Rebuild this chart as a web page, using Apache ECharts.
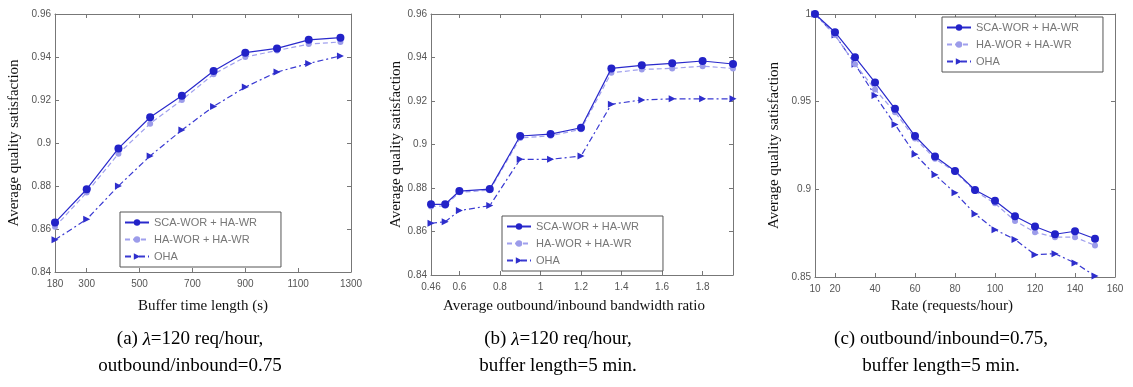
<!DOCTYPE html>
<html>
<head>
<meta charset="utf-8">
<script src="https://cdn.jsdelivr.net/npm/echarts@6/dist/echarts.min.js"></script>
<style>
  html, body { margin: 0; padding: 0; background: #fff; }
  #chart { width: 1133px; height: 387px; }
</style>
</head>
<body>
<div id="chart"></div>
<script>
// legend names
const series_names = ["SCA-WOR + HA-WR", "HA-WOR + HA-WR", "OHA"];

// (a) buffer time length
const buf_x = [180, 300, 420, 540, 660, 780, 900, 1020, 1140, 1260];
const buf_sca = [0.863, 0.8785, 0.8975, 0.912, 0.922, 0.9335, 0.942, 0.944, 0.948, 0.949];
const buf_ha = [0.861, 0.877, 0.895, 0.909, 0.920, 0.932, 0.940, 0.943, 0.946, 0.947];
const buf_oha = [0.855, 0.8645, 0.880, 0.894, 0.906, 0.917, 0.926, 0.933, 0.937, 0.9405];
const buf_ticks = [180, 300, 500, 700, 900, 1100, 1300];

// (b) bandwidth ratio
const ratio_x = [0.46, 0.53, 0.6, 0.75, 0.9, 1.05, 1.2, 1.35, 1.5, 1.65, 1.8, 1.95];
const ratio_sca = [0.8725, 0.8725, 0.8786, 0.8795, 0.9039, 0.9048, 0.9077, 0.935, 0.9364, 0.9373, 0.9384, 0.937];
const ratio_ha = [0.8715, 0.8718, 0.878, 0.879, 0.903, 0.904, 0.907, 0.933, 0.9345, 0.935, 0.936, 0.935];
const ratio_oha = [0.8638, 0.8645, 0.8696, 0.8719, 0.8932, 0.8932, 0.8947, 0.9185, 0.9205, 0.921, 0.921, 0.921];
const ratio_ticks = [0.46, 0.6, 0.8, 1, 1.2, 1.4, 1.6, 1.8];

// (c) request rate
const rate_x = [10, 20, 30, 40, 50, 60, 70, 80, 90, 100, 110, 120, 130, 140, 150];
const rate_sca = [1.0, 0.9896, 0.9754, 0.961, 0.9459, 0.9304, 0.9187, 0.9105, 0.8996, 0.8935, 0.8847, 0.8788, 0.8744, 0.8761, 0.8718];
const rate_ha = [1.0, 0.988, 0.9714, 0.957, 0.944, 0.929, 0.9175, 0.910, 0.899, 0.892, 0.882, 0.8755, 0.8727, 0.8727, 0.868];
const rate_oha = [1.0, 0.988, 0.9714, 0.9535, 0.937, 0.920, 0.9083, 0.898, 0.886, 0.877, 0.8714, 0.8627, 0.8633, 0.858, 0.8506];
const rate_ticks = [10, 20, 40, 60, 80, 100, 120, 140, 160];

const x_names = ["Buffer time length (s)", "Average outbound/inbound bandwidth ratio", "Rate (requests/hour)"];
const y_name = "Average quality satisfaction";
const captions = [
  "(a) {i|λ}=120 req/hour,\noutbound/inbound=0.75",
  "(b) {i|λ}=120 req/hour,\nbuffer length=5 min.",
  "(c) outbound/inbound=0.75,\nbuffer length=5 min."
];

const serif = "'Liberation Serif', 'DejaVu Serif', serif";
const frame_color = "#777";

const grids = [
  { left: 55, top: 14, width: 296, height: 258 },
  { left: 431, top: 14, width: 302, height: 261 },
  { left: 815, top: 14, width: 300, height: 263 }
];

const panels = [
  { x: buf_x, ys: [buf_sca, buf_ha, buf_oha], xmin: 180, xmax: 1300, ticks: buf_ticks, ymin: 0.84, ymax: 0.96, yint: 0.02, y_gap: 33, x_gap: 27, x_pad: 0, cap_x: 185,
    legend: { left: 120, top: 212 } },
  { x: ratio_x, ys: [ratio_sca, ratio_ha, ratio_oha], xmin: 0.46, xmax: 1.95, ticks: ratio_ticks, ymin: 0.84, ymax: 0.96, yint: 0.02, y_gap: 25, x_gap: 24, x_pad: 16, cap_x: 553,
    legend: { left: 502, top: 216 } },
  { x: rate_x, ys: [rate_sca, rate_ha, rate_oha], xmin: 10, xmax: 160, ticks: rate_ticks, ymin: 0.85, ymax: 1, yint: 0.05, y_gap: 33, x_gap: 22, x_pad: 26, cap_x: 936,
    legend: { left: 942, top: 17 } }
];

const line_styles = [
  { color: "#2a2acc", type: "solid", width: 1.2, symbol: "circle", size: 8, sym_color: "#2222c8" },
  { color: "#a0a0ee", type: [5, 3], width: 1.2, symbol: "circle", size: 6, sym_color: "#9c9cea" },
  { color: "#3a3ad2", type: [6, 3, 2, 3], width: 1.2, symbol: "triangle", size: 7, sym_color: "#2e2ecc" }
];

const tick_label = { fontFamily: "'Liberation Sans', Arial, sans-serif", fontSize: 10, color: "#555" };

const x_axes = [];
const y_axes = [];
const series = [];
const legends = [];
const titles = [];

panels.forEach((p, i) => {
  // bottom axis with labels
  x_axes.push({
    type: "value", gridIndex: i, min: p.xmin, max: p.xmax, position: "bottom",
    name: x_names[i], nameLocation: "middle", nameGap: p.x_gap,
    nameTextStyle: { fontFamily: serif, fontSize: 15, color: "#111", padding: [0, p.x_pad, 0, 0] },
    axisLine: { show: true, lineStyle: { color: frame_color, width: 1 } },
    axisTick: { show: true, inside: true, length: 4, customValues: p.ticks, lineStyle: { color: frame_color } },
    axisLabel: Object.assign({
      margin: 7, customValues: p.ticks, showMinLabel: true, showMaxLabel: true,
      formatter: v => String(v)
    }, tick_label),
    splitLine: { show: false }
  });
  y_axes.push({
    type: "value", gridIndex: i, min: p.ymin, max: p.ymax, interval: p.yint, position: "left",
    name: y_name, nameLocation: "middle", nameRotate: 90, nameGap: p.y_gap,
    nameTextStyle: { fontFamily: serif, fontSize: 15, color: "#111" },
    axisLine: { show: true, lineStyle: { color: frame_color, width: 1 } },
    axisTick: { show: true, inside: true, length: 4, lineStyle: { color: frame_color } },
    axisLabel: Object.assign({ margin: 4 }, tick_label),
    splitLine: { show: false }
  });
  p.ys.forEach((ys, k) => {
    const s = line_styles[k];
    series.push({
      type: "line", name: series_names[k], xAxisIndex: i, yAxisIndex: i,
      data: p.x.map((xv, j) => [xv, ys[j]]),
      symbol: s.symbol, symbolSize: s.size, symbolRotate: s.symbol === "triangle" ? -90 : 0,
      itemStyle: { color: s.sym_color },
      lineStyle: { color: s.color, type: s.type, width: s.width },
      z: 10 - k,
      animation: false
    });
  });
  legends.push({
    orient: "vertical", left: p.legend.left, top: p.legend.top,
    data: series_names, itemWidth: 24, itemHeight: 8, itemGap: 6,
    padding: [5, 24, 5, 4], borderColor: "#555", borderWidth: 1, backgroundColor: "#fff",
    textStyle: { fontFamily: "'Liberation Sans', Arial, sans-serif", fontSize: 11, color: "#777" },
    selectedMode: false
  });
  titles.push({
    text: captions[i], left: p.cap_x, top: 321, textAlign: "center",
    textStyle: {
      fontFamily: serif, fontSize: 19, fontWeight: "normal", color: "#000", lineHeight: 27,
      rich: { i: { fontFamily: serif, fontStyle: "italic", fontSize: 19, lineHeight: 27 } }
    }
  });
});

// mirror axes on top / right for the box and inner ticks
panels.forEach((p, i) => {
  x_axes.push({
    type: "value", gridIndex: i, min: p.xmin, max: p.xmax, position: "top",
    axisLine: { show: true, lineStyle: { color: frame_color, width: 1 } },
    axisTick: { show: true, inside: true, length: 4, customValues: p.ticks, lineStyle: { color: frame_color } },
    axisLabel: { show: false }, splitLine: { show: false }
  });
  y_axes.push({
    type: "value", gridIndex: i, min: p.ymin, max: p.ymax, interval: p.yint, position: "right",
    axisLine: { show: true, lineStyle: { color: frame_color, width: 1 } },
    axisTick: { show: true, inside: true, length: 4, lineStyle: { color: frame_color } },
    axisLabel: { show: false }, splitLine: { show: false }
  });
});

const chart = echarts.init(document.getElementById("chart"));
chart.setOption({
  backgroundColor: "#fff",
  animation: false,
  title: titles,
  grid: grids,
  xAxis: x_axes,
  yAxis: y_axes,
  legend: legends,
  series
});
</script>
</body>
</html>
